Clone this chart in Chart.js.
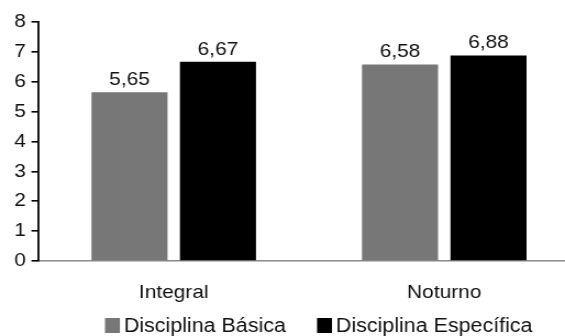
<!DOCTYPE html>
<html>
<head>
<meta charset="utf-8">
<script src="https://cdn.jsdelivr.net/npm/chart.js@4/dist/chart.umd.min.js"></script>
<style>
  html, body { margin: 0; padding: 0; background: #fff; overflow: hidden; }
  #page { width: 565px; height: 336px; overflow: hidden; }
  /* the figure is drawn slightly narrow and widened horizontally;
     its right end runs past the page edge */
  #wrap { width: 528px; height: 336px; transform: scaleX(1.0992); transform-origin: 0 0; }
  #c { display: block; width: 528px; height: 336px; }
</style>
</head>
<body>
<div id="page"><div id="wrap"><canvas id="c" width="528" height="336"></canvas></div></div>
<script>
const categories = ['Integral', 'Noturno'];
const seriesNames = ['Disciplina Básica', 'Disciplina Específica'];
const basica = [5.65, 6.58];
const especifica = [6.67, 6.88];
const yTicks = [0, 1, 2, 3, 4, 5, 6, 7, 8];

const FONT = "'Liberation Sans', Arial, sans-serif";
const GREY = '#777777';
const BLACK = '#000000';

function fmt(v) { return v.toFixed(2).replace('.', ','); }

// Value labels above each bar
const valueLabels = {
  id: 'valueLabels',
  afterDatasetsDraw(chart) {
    const ctx = chart.ctx;
    ctx.save();
    ctx.font = '19px ' + FONT;
    ctx.fillStyle = '#111';
    ctx.textAlign = 'center';
    ctx.textBaseline = 'alphabetic';
    chart.data.datasets.forEach((ds, i) => {
      chart.getDatasetMeta(i).data.forEach((bar, j) => {
        ctx.fillText(fmt(ds.data[j]), bar.x, bar.y - 7);
      });
    });
    ctx.restore();
  }
};

// Legend row under the category labels
const bottomLegend = {
  id: 'bottomLegend',
  afterDraw(chart) {
    const ctx = chart.ctx;
    ctx.save();
    ctx.font = '19.5px ' + FONT;
    ctx.textBaseline = 'alphabetic';
    ctx.textAlign = 'left';
    const baseline = 332;
    const boxW = 13.6, boxH = 15;
    const starts = [95.5, 288.4];
    chart.data.datasets.forEach((ds, i) => {
      const x = starts[i];
      ctx.fillStyle = ds.backgroundColor;
      ctx.fillRect(x, 318, boxW, boxH);
      ctx.fillStyle = '#111';
      ctx.fillText(ds.label, x + boxW + 3.6, baseline);
    });
    ctx.restore();
  }
};

new Chart(document.getElementById('c'), {
  type: 'bar',
  data: {
    labels: categories,
    datasets: [
      { label: seriesNames[0], data: basica, backgroundColor: GREY,
        categoryPercentage: 0.654, barPercentage: 0.86 },
      { label: seriesNames[1], data: especifica, backgroundColor: BLACK,
        categoryPercentage: 0.654, barPercentage: 0.86 }
    ]
  },
  options: {
    responsive: false,
    animation: false,
    devicePixelRatio: 1,
    layout: { padding: { top: 22, left: 0, right: 0.8, bottom: 0 } },
    plugins: {
      legend: { display: false },
      tooltip: { enabled: false }
    },
    scales: {
      x: {
        grid: { display: false, drawTicks: false },
        border: { display: true, color: '#8a8a8a', width: 1.5 },
        ticks: { color: '#111', font: { family: FONT, size: 19 }, padding: 20 },
        afterFit(scale) { scale.height = 75; }
      },
      y: {
        min: 0, max: 8,
        afterBuildTicks(scale) { scale.ticks = yTicks.map(v => ({ value: v })); },
        grid: { display: true, drawOnChartArea: false, drawTicks: true,
                tickLength: 6.4, color: '#000', lineWidth: 1.6 },
        border: { display: true, color: '#000', width: 1.8 },
        ticks: { color: '#111', font: { family: FONT, size: 19 }, padding: 5 },
        afterFit(scale) { scale.width = 35; }
      }
    }
  },
  plugins: [valueLabels, bottomLegend]
});
</script>
</body>
</html>
